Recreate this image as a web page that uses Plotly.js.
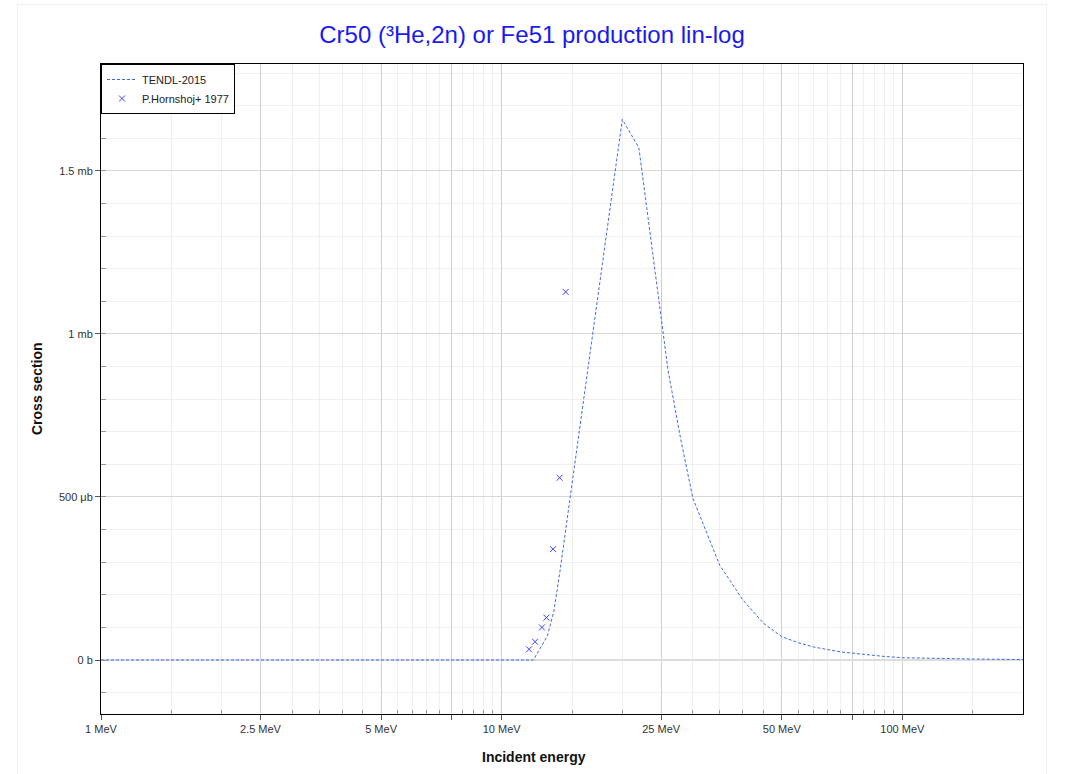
<!DOCTYPE html>
<html>
<head>
<meta charset="utf-8">
<script src="https://cdn.plot.ly/plotly-3.0.1.min.js"></script>
<style>
  html, body { margin: 0; padding: 0; background: #fff; overflow: hidden; }
  #chart { position: absolute; left: 18px; top: 5px; width: 1028px; height: 800px; outline: 1px solid #eeeeee; }
</style>
</head>
<body>
<div id="chart"></div>
<script>
// TENDL-2015 evaluation (energy in MeV, cross section in barns)
const tendlEnergy = [1, 12, 13, 13.5, 14, 20, 22, 24, 26, 28, 30, 35, 40, 45, 50, 55, 60, 70, 80, 90, 100, 120, 150, 200];
const tendlXS = [0, 0, 0.000074, 0.000150, 0.000278, 0.001658, 0.001571, 0.001218, 0.000890, 0.000675, 0.000496, 0.000291, 0.000184, 0.000113, 0.0000715, 0.000053, 0.000040, 0.000025, 0.000017, 0.000011, 0.000007, 0.0000046, 0.000003, 0.0000015];

// P.Hornshoj+ 1977 experimental points
const expEnergy = [11.70, 12.11, 12.60, 12.93, 13.43, 13.95, 14.44];
const expXS = [0.0000328, 0.000056, 0.000100, 0.000130, 0.000340, 0.000559, 0.001129];

// Axis ticks
const xTickVals = [1, 2.5, 5, 7.5, 10, 25, 50, 75, 100];
const xTickText = ['1 MeV', '2.5 MeV', '5 MeV', '', '10 MeV', '25 MeV', '50 MeV', '', '100 MeV'];
const xMinorVals = [1.5, 2, 3, 3.5, 4, 4.5, 5.5, 6, 6.5, 7, 8, 8.5, 9, 9.5, 15, 20, 30, 35, 40, 45, 55, 60, 65, 70, 80, 85, 90, 95, 150];
const yTickVals = [0, 0.0005, 0.001, 0.0015];
const yTickText = ['0 b', '500 μb', '1 mb', '1.5 mb'];

const traces = [
  {
    x: tendlEnergy, y: tendlXS,
    type: 'scatter', mode: 'lines', name: 'TENDL-2015',
    line: { color: '#4169e1', width: 1, dash: '3px,2px' }
  },
  {
    x: expEnergy, y: expXS,
    type: 'scatter', mode: 'markers', name: 'P.Hornshoj+ 1977',
    marker: { symbol: 'x-thin-open', size: 6, color: '#4040ff', line: { color: '#4040ff', width: 1 } }
  }
];

const layout = {
  width: 1028, height: 800,
  margin: { l: 83, r: 23, t: 59, b: 91 },
  paper_bgcolor: '#ffffff', plot_bgcolor: '#ffffff',
  font: { family: 'Liberation Sans, Arial, sans-serif', size: 12, color: '#222' },
  title: {
    text: 'Cr50 (³He,2n) or Fe51 production lin-log',
    font: { size: 24, color: '#1a1aee', family: 'Liberation Sans, Arial, sans-serif' },
    x: 0.5, xanchor: 'center', yref: 'container', y: 1 - 30 / 800, yanchor: 'middle'
  },
  showlegend: true,
  legend: {
    x: 0, y: 1, xanchor: 'left', yanchor: 'top',
    bgcolor: '#ffffff', bordercolor: '#000000', borderwidth: 1,
    font: { size: 11, color: '#222' },
    tracegroupgap: 0, itemwidth: 30
  },
  annotations: [
    {
      text: '<b>Incident energy</b>', xref: 'paper', yref: 'paper',
      x: (534 - 101) / 922, y: (714 - 757) / 650, xanchor: 'center', yanchor: 'middle',
      showarrow: false, font: { size: 14, color: '#111' }
    },
    {
      text: '<b>Cross section</b>', xref: 'paper', yref: 'paper',
      x: (37 - 101) / 922, y: 0.5, xanchor: 'center', yanchor: 'middle', textangle: -90,
      showarrow: false, font: { size: 14, color: '#111' }
    }
  ],
  xaxis: {
    type: 'log', range: [0, Math.log10(200)],
    tickmode: 'array', tickvals: xTickVals, ticktext: xTickText,
    ticks: 'outside', ticklen: 5, tickcolor: '#555',
    showgrid: true, gridcolor: '#d0d0d0', gridwidth: 1,
    showline: true, linecolor: '#000', linewidth: 1, mirror: true,
    zeroline: false,
    minor: { tickmode: 'array', tickvals: xMinorVals, showgrid: true, gridcolor: '#efefef', gridwidth: 1, ticks: 'inside', ticklen: 4, tickcolor: '#999' },
    tickfont: { size: 11, color: '#333' }
  },
  yaxis: {
    range: [-0.0001656, 0.001828],
    tickmode: 'array', tickvals: yTickVals, ticktext: yTickText,
    ticks: 'outside', ticklen: 5, tickcolor: '#555',
    showgrid: true, gridcolor: '#d8d8d8', gridwidth: 1,
    showline: true, linecolor: '#000', linewidth: 1, mirror: true,
    zeroline: true, zerolinecolor: '#dddddd', zerolinewidth: 1.5,
    minor: { dtick: 0.0001, tick0: 0, showgrid: true, gridcolor: '#efefef', gridwidth: 1, ticks: 'inside', ticklen: 5, tickcolor: '#999' },
    tickfont: { size: 11, color: '#333' }
  }
};

Plotly.newPlot('chart', traces, layout, { displayModeBar: false, staticPlot: true });
</script>
</body>
</html>
